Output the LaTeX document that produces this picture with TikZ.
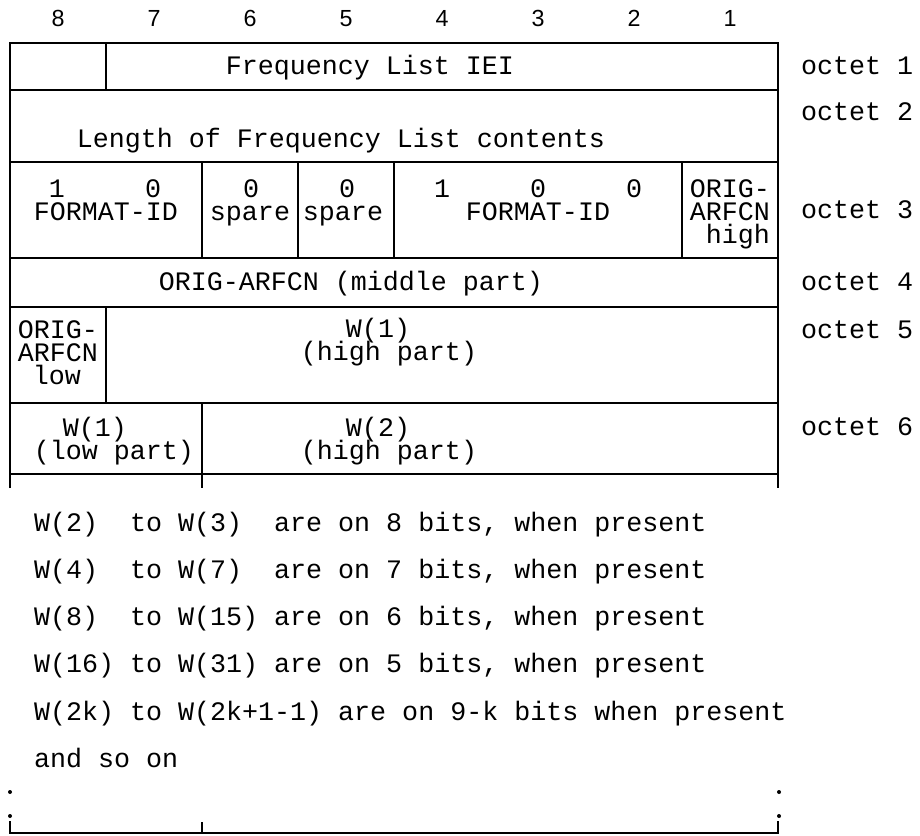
\documentclass[tikz,border=0pt]{standalone}
\usepackage{fontspec}
\newfontfamily\monofont{Liberation Mono}
\newfontfamily\sansfont{Liberation Sans}
\begin{document}
\begin{tikzpicture}[x=1pt,y=-1pt,
  grid/.style={line width=1.8pt, line join=miter},
  txt/.style={font=\monofont\fontsize{26.67}{24}\selectfont, inner sep=0pt, anchor=base, text height=16pt, text depth=4pt},
  bitnum/.style={font=\sansfont\fontsize{23.3}{28}\selectfont, inner sep=0pt, anchor=base},
  lbl/.style={txt, anchor=base west},
  dotmark/.style={fill=black}]
\useasboundingbox (0,0) rectangle (920,835);

% bit numbers
\foreach \b [count=\i] in {8,7,...,1}
  \node[bitnum] (b\b) at ({10+96*(\i-1)+48},26.7) {\b};

% frame and grid
\draw[grid] (10,488) -- (10,43) -- (778,43) -- (778,488);
\foreach \y in {90,162,258,307,403,474}
  \draw[grid] (10,\y) -- (778,\y);
\draw[grid] (106,43) -- (106,90);
\foreach \x in {202,298,394,682}
  \draw[grid] (\x,162) -- (\x,258);
\draw[grid] (106,307) -- (106,403);
\draw[grid] (202,403) -- (202,488);

% octet labels
\node[lbl] (o1) at (801,74) {octet 1};
\node[lbl] (o2) at (801,120) {octet 2};
\node[lbl] (o3) at (801,218) {octet 3};
\node[lbl] (o4) at (801,290) {octet 4};
\node[lbl] (o5) at (801,338) {octet 5};
\node[lbl] (o6) at (801,435) {octet 6};

% octet 1
\node[txt] (iei) at (370,74) {Frequency List IEI};
% octet 2
\node[txt] (len) at (341,147) {Length of Frequency List contents};
% octet 3
\node[txt] (f8) at (57,197) {1};
\node[txt] (f7) at (153,197) {0};
\node[txt] (fid1) at (106,220) {FORMAT-ID};
\node[txt] (s6v) at (251,197) {0};
\node[txt] (s6) at (250,220) {spare};
\node[txt] (s5v) at (347,197) {0};
\node[txt] (s5) at (343,220) {spare};
\node[txt] (f4) at (442,197) {1};
\node[txt] (f3) at (538,197) {0};
\node[txt] (f2) at (634,197) {0};
\node[txt] (fid2) at (538,220) {FORMAT-ID};
\node[txt, anchor=base east] (oh1) at (770,197) {ORIG-};
\node[txt, anchor=base east] (oh2) at (770,220) {ARFCN};
\node[txt, anchor=base east] (oh3) at (770,243) {high};
% octet 4
\node[txt] (mid) at (351,290) {ORIG-ARFCN (middle part)};
% octet 5
\node[txt] (ol1) at (58,338) {ORIG-};
\node[txt] (ol2) at (58,361) {ARFCN};
\node[txt] (ol3) at (57,384) {low};
\node[txt] (w1h1) at (378,337) {W(1)};
\node[txt] (w1h2) at (389,360) {(high part)};
% octet 6
\node[txt] (w1l1) at (95,436) {W(1)};
\node[txt] (w1l2) at (114,459) {(low part)};
\node[txt] (w2h1) at (378,436) {W(2)};
\node[txt] (w2h2) at (389,459) {(high part)};

% notes
\node[lbl] (n1) at (34,531) {W(2)~~to W(3)~~are on 8 bits, when present};
\node[lbl] (n2) at (34,578.3) {W(4)~~to W(7)~~are on 7 bits, when present};
\node[lbl] (n3) at (34,625.6) {W(8)~~to W(15) are on 6 bits, when present};
\node[lbl] (n4) at (34,672.9) {W(16) to W(31) are on 5 bits, when present};
\node[lbl] (n5) at (34,720.2) {W(2k) to W(2k+1-1) are on 9-k bits when present};
\node[lbl] (n6) at (34,767.5) {and so on};

% continuation dots and bottom row
\fill[dotmark] (10,792) circle[radius=2pt];
\fill[dotmark] (779,792) circle[radius=2pt];
\fill[dotmark] (10,816) circle[radius=2pt];
\fill[dotmark] (779,816) circle[radius=2pt];
\draw[grid] (10,821) -- (10,833) -- (778,833) -- (778,821);
\draw[grid] (202,822) -- (202,833);
\end{tikzpicture}
\end{document}
